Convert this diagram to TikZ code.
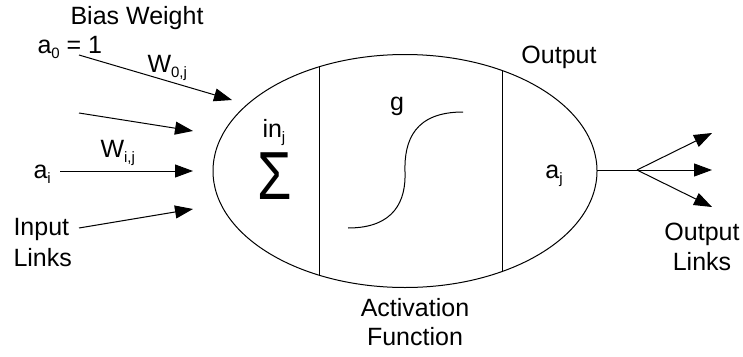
\documentclass[tikz,border=0pt]{standalone}
\usepackage{fontspec}
\setmainfont{Liberation Sans}
\usetikzlibrary{arrows.meta}
\newcommand\sbs[1]{\raisebox{-5pt}{\fontsize{15}{15}\selectfont #1}}
\begin{document}
\begin{tikzpicture}[x=1pt,y=-1pt, line width=1pt,
  lbl/.style={font=\fontsize{25}{30}\selectfont, inner sep=0pt, anchor=base west},
  clbl/.style={lbl, anchor=base},
  arr/.style={-{Triangle[length=18pt,width=13pt]}}]
\useasboundingbox (0,0) rectangle (743,356);
% left side labels
\node[clbl] (bias) at (137,24) {Bias Weight};
\node[lbl] (a0) at (37,53) {a\sbs{0} = 1};
\node[lbl] (w0) at (147,72) {W\sbs{0,j}};
\node[lbl] (ai) at (33,178) {a\sbs{i}};
\node[lbl] (wi) at (100,157) {W\sbs{i,j}};
\node[lbl] (input) at (13,235) {Input};
\node[lbl] (links) at (13,266) {Links};
% connector end points
\coordinate (s0) at (79,55);  \coordinate (t0) at (232,100);
\coordinate (s1) at (79,113); \coordinate (t1) at (193,131);
\coordinate (s2) at (60,171); \coordinate (t2) at (193,171);
\coordinate (s3) at (79,228); \coordinate (t3) at (193,209);
\draw[arr] (s0) -- (t0);
\draw[arr] (s1) -- (t1);
\draw[arr] (s2) -- (t2);
\draw[arr] (s3) -- (t3);
% neuron body
\coordinate (c) at (405,171);
\draw (c) ellipse (192 and 116.5);
\coordinate (v1t) at (319,66.8); \coordinate (v1b) at (319,275.2);
\coordinate (v2t) at (502,70.5); \coordinate (v2b) at (502,271.5);
\draw (v1t) -- (v1b);
\draw (v2t) -- (v2b);
\node[lbl] (inj) at (262,137) {in\sbs{j}};
\node[font=\fontsize{68}{68}\selectfont, inner sep=0pt, xscale=0.82] (sigma) at (275,176) {Σ};
\node[clbl] (g) at (397,110) {g};
\draw (348,228) .. controls (395,228) and (406,200) .. (405,172)
      .. controls (404,140) and (415,112) .. (463,112);
\node[clbl] (aj) at (554,178) {a\sbs{j}};
\node[clbl] (out) at (559,63) {Output};
\node[clbl] (act) at (415,316) {Activation};
\node[clbl] (fun) at (415,345) {Function};
% output links
\coordinate (e) at (597,170);
\coordinate (br) at (637,170);
\coordinate (o1) at (712,133);
\coordinate (o2) at (712,170);
\coordinate (o3) at (712,207);
\draw (e) -- (br);
\draw[arr] (br) -- (o1);
\draw[arr] (br) -- (o2);
\draw[arr] (br) -- (o3);
\node[clbl] (outl) at (702,240) {Output};
\node[clbl] (outl2) at (702,270) {Links};
\end{tikzpicture}
\end{document}
